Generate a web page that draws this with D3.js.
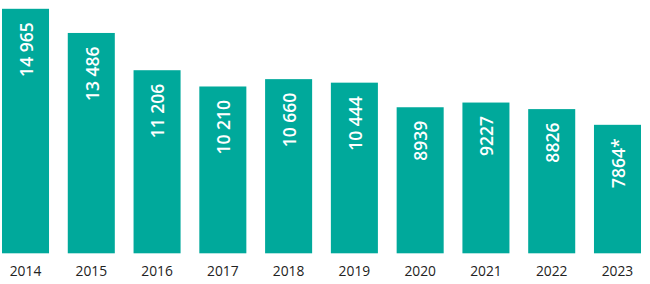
<!DOCTYPE html>
<html>
<head>
<meta charset="utf-8">
<script src="https://cdn.jsdelivr.net/npm/d3@7"></script>
<style>
  html, body { margin: 0; padding: 0; background: #ffffff; }
  svg { display: block; }
</style>
</head>
<body>
<svg id="chart" width="650" height="284"></svg>
<script>
const years = ["2014","2015","2016","2017","2018","2019","2020","2021","2022","2023"];
const values = [14965, 13486, 11206, 10210, 10660, 10444, 8939, 9227, 8826, 7864];
const valueLabels = ["14 965","13 486","11 206","10 210","10 660","10 444","8939","9227","8826","7864*"];

const svg = d3.select("#chart");
const baseY = 253.3;

const x = d3.scaleBand()
  .domain(years)
  .range([2, 641])
  .paddingInner(0.285)
  .paddingOuter(0);

const y = d3.scaleLinear()
  .domain([0, 14965])
  .range([baseY, 8.8]);

const data = years.map((yr, i) => ({ year: yr, value: values[i], label: valueLabels[i] }));

svg.append("g")
  .selectAll("rect")
  .data(data)
  .join("rect")
  .attr("x", d => x(d.year))
  .attr("y", d => y(d.value))
  .attr("width", x.bandwidth())
  .attr("height", d => baseY - y(d.value))
  .attr("fill", "#00a99b");

svg.append("g")
  .selectAll("text")
  .data(data)
  .join("text")
  .attr("transform", d => `translate(${x(d.year) + x.bandwidth() / 2 + 7.3},${y(d.value) + 13.5}) rotate(-90)`)
  .attr("text-anchor", "end")
  .attr("fill", "#ffffff")
  .attr("font-family", "'Open Sans', sans-serif")
  .attr("font-weight", 600)
  .attr("font-size", "17.5px")
  .text(d => d.label);

const xAxis = d3.axisBottom(x).tickSize(0).tickPadding(0);
const gx = svg.append("g")
  .attr("transform", `translate(0,${baseY})`)
  .call(xAxis);
gx.select(".domain").remove();
gx.selectAll("text")
  .attr("y", 22.7)
  .attr("dy", 0)
  .attr("fill", "#222222")
  .attr("font-family", "'Open Sans', sans-serif")
  .attr("font-size", "13.8px");
</script>
</body>
</html>
